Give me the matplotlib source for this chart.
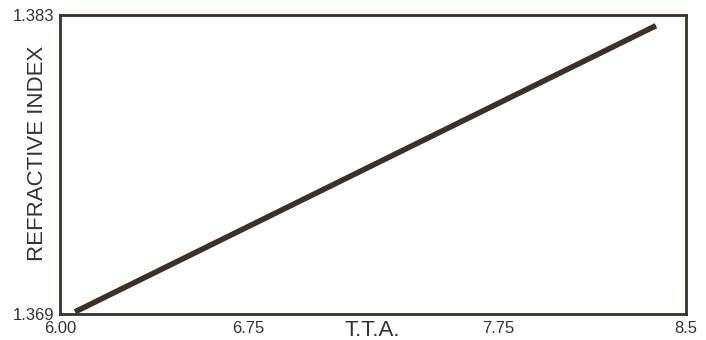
import matplotlib
matplotlib.use("Agg")
import matplotlib.pyplot as plt

plt.rcParams['font.family'] = ['Liberation Sans', 'DejaVu Sans']

tta = [6.06, 8.38]
refractive_index = [1.3691, 1.3825]
x_ticks = [6.00, 6.75, 7.75, 8.5]
x_tick_labels = ["6.00", "6.75", "7.75", "8.5"]
y_ticks = [1.369, 1.383]
y_tick_labels = ["1.369", "1.383"]

ink = "#3b312b"
fig = plt.figure(figsize=(7.06, 3.40), dpi=100)
ax = fig.add_axes([60/706, 1-314/340, 626/706, 299/340])
ax.plot(tta, refractive_index, color=ink, lw=4.0, solid_capstyle='butt')
ax.set_xlim(6.0, 8.5)
ax.set_ylim(1.369, 1.383)
ax.set_xticks(x_ticks)
ax.set_xticklabels(x_tick_labels)
ax.set_yticks(y_ticks)
ax.set_yticklabels(y_tick_labels)
ax.tick_params(length=0, labelsize=12, colors="#333333", pad=4)
ax.tick_params(axis='x', pad=5)
for s in ax.spines.values():
    s.set_color(ink)
    s.set_linewidth(2)
ax.set_xlabel("T.T.A.", fontsize=16, color="#333333", va='center')
ax.xaxis.set_label_coords((372-60)/626, -(331-314)/299)
ax.set_ylabel("REFRACTIVE INDEX", fontsize=16, color="#333333", va='center')
ax.yaxis.set_label_coords(-(60-38)/626, (314-153)/299)
fig.savefig("out.png", dpi=100)
